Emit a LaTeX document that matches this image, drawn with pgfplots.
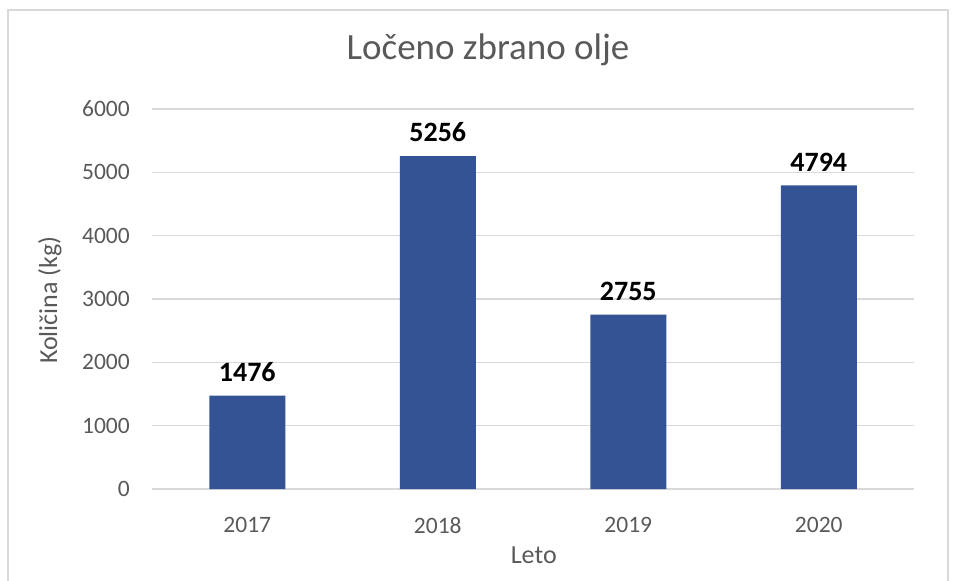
\documentclass[border=0pt]{standalone}
\usepackage{pgfplots}
\pgfplotsset{compat=1.18}
\usepackage{fontspec}
\setmainfont{Carlito}
\definecolor{barblue}{HTML}{335395}
\definecolor{txtgray}{HTML}{595959}
\definecolor{gridgray}{HTML}{D9D9D9}
\begin{document}
\begin{tikzpicture}
\path[use as bounding box] (0pt,0pt) rectangle (956pt,581pt);
\clip (0pt,0pt) rectangle (956pt,581pt);
\draw[gridgray, line width=1.3pt] (8pt,571pt) rectangle (948pt,-10pt);
\begin{axis}[
  at={(152pt,92pt)}, anchor=south west,
  scale only axis, width=762pt, height=380pt,
  ybar, bar width=76pt,
  xmin=-0.5, xmax=3.5, ymin=0, ymax=6000,
  xtick={0,1,2,3}, xticklabels={2017,2018,2019,2020},
  ytick={0,1000,...,6000},
  major x tick style={draw=none},
  extra x ticks={-0.5,0.5,1.5,2.5,3.5}, extra x tick labels={},
  extra x tick style={major tick length=7pt, tick align=outside, tick style={draw=gridgray, line width=1.3pt}, grid=none},
  axis x line*=bottom, axis y line*=left,
  x axis line style={draw=gridgray, line width=1.3pt, -},
  y axis line style={draw=none},
  major y tick style={draw=none},
  ymajorgrids, grid style={draw=gridgray, line width=1.3pt},
  /pgf/number format/assume math mode=true,
  /pgf/number format/set thousands separator={},
  tick label style={font=\fontsize{23.5}{28}\selectfont, text=txtgray},
  yticklabel style={inner sep=0pt, anchor=east, xshift=-22pt},
  xticklabel style={inner sep=0pt, anchor=center, yshift=-32pt},
  title={Ločeno zbrano olje},
  title style={font=\fontsize{37}{42}\selectfont, text=txtgray, at={(axis description cs:0.441,1.139)}, anchor=center},
  xlabel={Leto},
  xlabel style={font=\fontsize{26}{30}\selectfont, text=txtgray, at={(axis description cs:0.501,-0.174)}, anchor=center},
  ylabel={Količina (kg)},
  ylabel style={font=\fontsize{26}{30}\selectfont, text=txtgray, at={(axis description cs:-0.134,0.497)}, anchor=center, rotate=0},
  nodes near coords,
  nodes near coords style={font=\bfseries\fontsize{28}{32}\selectfont, text=black, inner sep=0pt, anchor=south, yshift=14pt},
  point meta=explicit symbolic,
]
\addplot[fill=barblue, draw=none] coordinates {(0,1476)[1476] (1,5256)[5256] (2,2755)[2755] (3,4794)[4794]};
\end{axis}
\end{tikzpicture}
\end{document}
